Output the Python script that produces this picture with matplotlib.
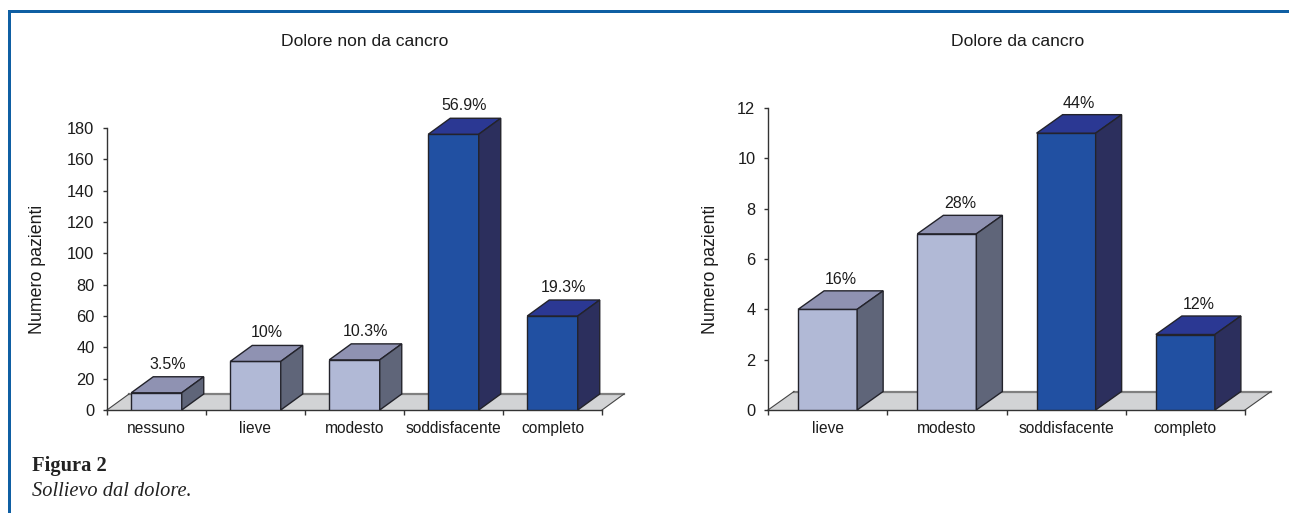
import matplotlib
matplotlib.use("Agg")
import matplotlib.pyplot as plt
from matplotlib.patches import Polygon, Rectangle

plt.rcParams["font.family"] = ["Liberation Sans", "DejaVu Sans"]

W, H = 1289, 513

categories_left = ["nessuno", "lieve", "modesto", "soddisfacente", "completo"]
values_left = [11, 31, 32, 176, 60]
percent_left = ["3.5%", "10%", "10.3%", "56.9%", "19.3%"]
ticks_left = [0, 20, 40, 60, 80, 100, 120, 140, 160, 180]

categories_right = ["lieve", "modesto", "soddisfacente", "completo"]
values_right = [4, 7, 11, 3]
percent_right = ["16%", "28%", "44%", "12%"]
ticks_right = [0, 2, 4, 6, 8, 10, 12]

LIGHT = ("#b1b9d6", "#8f92b2", "#5f6579")
DARK = ("#2150a2", "#2b3893", "#2c2f5d")
EDGE = "#23232b"
TEXT = "#1c1c1c"


def pixel_axes(fig, left, right, top, bottom):
    return fig.add_axes([left / W, 1 - bottom / H, (right - left) / W, (bottom - top) / H])


def draw_chart(ax, categories, values, percents, ticks, shades, depth_px, bar_width, label_gap):
    n = len(categories)
    ax.set_xlim(0, n)
    ax.set_ylim(ticks[0], ticks[-1])
    ax.patch.set_alpha(0)

    # depth of the fake 3d boxes, converted from pixels to data units
    box = ax.get_window_extent()
    dx = depth_px[0] * n / box.width
    dy = depth_px[1] * ticks[-1] / box.height

    ax.add_patch(Polygon([(0, 0), (dx, dy), (n + dx, dy), (n, 0)], closed=True, facecolor="#d2d3d5",
                         edgecolor="none", clip_on=False, zorder=1))
    ax.plot([dx, n + dx], [dy, dy], color="#808080", linewidth=1.6, clip_on=False, zorder=1.5)
    ax.plot([0, dx], [0, dy], color="#444444", linewidth=0.8, clip_on=False, zorder=1.5)
    ax.plot([n, n + dx], [0, dy], color="#444444", linewidth=0.8, clip_on=False, zorder=1.5)

    for i, value in enumerate(values):
        front, top, side = shades[i]
        x0 = i + 0.5 - bar_width / 2
        x1 = x0 + bar_width
        ax.bar(i + 0.5, value, width=bar_width, color=front, edgecolor=EDGE, linewidth=1.0, zorder=3)
        ax.add_patch(Polygon([(x0, value), (x0 + dx, value + dy), (x1 + dx, value + dy), (x1, value)],
                             closed=True, facecolor=top, edgecolor=EDGE, linewidth=1.0,
                             clip_on=False, zorder=3))
        ax.add_patch(Polygon([(x1, 0), (x1 + dx, dy), (x1 + dx, value + dy), (x1, value)],
                             closed=True, facecolor=side, edgecolor=EDGE, linewidth=1.0,
                             clip_on=False, zorder=3))
        ax.annotate(percents[i], (i + 0.5 + dx / 2, value + dy), xytext=(0, label_gap),
                    textcoords="offset pixels", ha="center", va="bottom",
                    fontsize=11.5, color=TEXT, zorder=4, annotation_clip=False)

    ax.spines["top"].set_visible(False)
    ax.spines["right"].set_visible(False)
    for side_name in ("left", "bottom"):
        ax.spines[side_name].set_color("#333333")
        ax.spines[side_name].set_linewidth(1.0)
        ax.spines[side_name].set_zorder(2)

    ax.set_yticks(ticks)
    ax.tick_params(axis="y", length=3, width=1.0, color="#333333", labelsize=11.8,
                   labelcolor=TEXT, pad=6)
    ax.set_xticks(range(n + 1))
    ax.set_xticklabels([])
    ax.tick_params(axis="x", which="major", length=3.6, width=1.0, color="#333333")
    ax.set_xticks([i + 0.5 for i in range(n)], categories, minor=True)
    ax.tick_params(axis="x", which="minor", length=0, labelsize=11.2, labelcolor=TEXT, pad=16.5)
    for label in ax.get_xticklabels(minor=True):
        label.set_va("baseline")


fig = plt.figure(figsize=(W / 100, H / 100), dpi=100, facecolor="white")

# blue frame along the left and top edge of the box
fig.add_artist(Rectangle((8 / W, 0), 3 / W, 1 - 10 / H, transform=fig.transFigure,
                         facecolor="#0f5fa3", edgecolor="none"))
fig.add_artist(Rectangle((8 / W, 1 - 13 / H), 1 - 8 / W, 3 / H, transform=fig.transFigure,
                         facecolor="#0f5fa3", edgecolor="none"))

ax_left = pixel_axes(fig, 107, 602, 128, 410)
shades_left = [LIGHT, LIGHT, LIGHT, DARK, DARK]
draw_chart(ax_left, categories_left, values_left, percent_left, ticks_left, shades_left,
           (22, 16), 0.51, 5)

ax_right = pixel_axes(fig, 768, 1245, 108, 410)
shades_right = [LIGHT, LIGHT, DARK, DARK]
draw_chart(ax_right, categories_right, values_right, percent_right, ticks_right, shades_right,
           (26, 18.5), 0.495, 4)

fig.text(365 / W, 1 - 41 / H, "Dolore non da cancro", ha="center", va="center", fontsize=12.6, color=TEXT)
fig.text(1018 / W, 1 - 41 / H, "Dolore da cancro", ha="center", va="center", fontsize=12.6, color=TEXT)
fig.text(38 / W, 1 - 269 / H, "Numero pazienti", ha="center", va="center", rotation=90, fontsize=12.8, color=TEXT)
fig.text(710 / W, 1 - 269 / H, "Numero pazienti", ha="center", va="center", rotation=90, fontsize=12.8, color=TEXT)

fig.text(32 / W, 1 - 466 / H, "Figura 2", ha="left", va="center", fontsize=14.8, fontweight="bold",
         family="Liberation Serif", color="#222222")
fig.text(32 / W, 1 - 491 / H, "Sollievo dal dolore.", ha="left", va="center", fontsize=14.7, style="italic",
         family="Liberation Serif", color="#222222")

fig.savefig("out.png", dpi=100)
plt.close(fig)
